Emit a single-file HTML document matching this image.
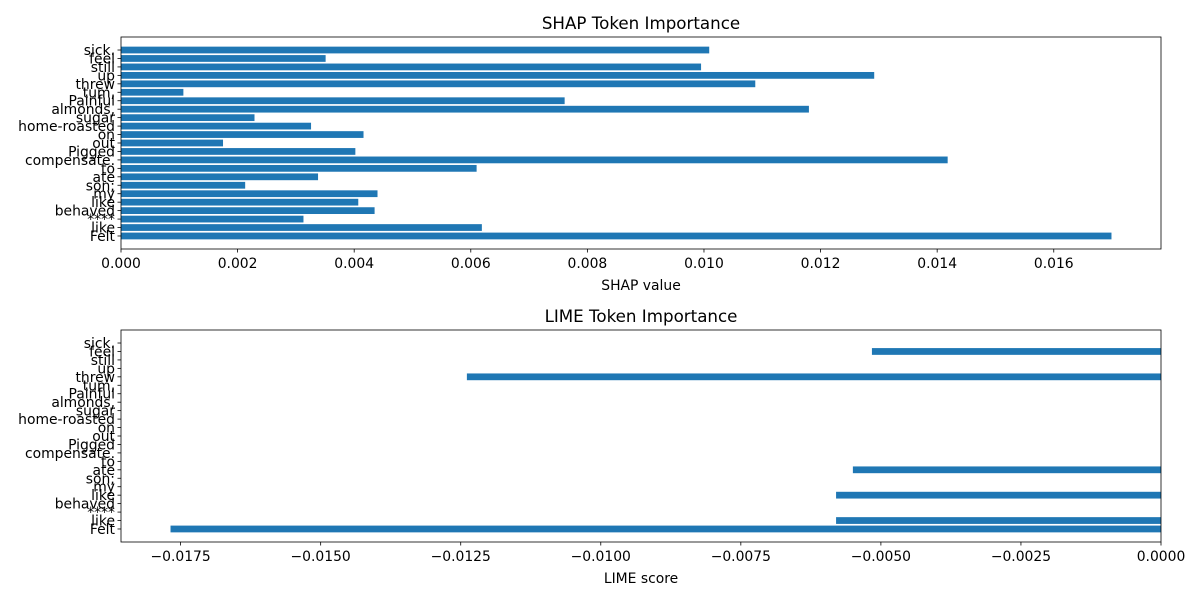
<!DOCTYPE html>
<html><head><meta charset="utf-8"><style>
body{margin:0;background:#fff}
svg{display:block;font-family:"DejaVu Sans","Liberation Sans",sans-serif}
</style></head><body>
<svg id="c" width="1200" height="600"></svg>
<script>
const categories=["Felt","like","****","behaved","like","my","son;","ate","to","compensate.","Pigged","out","on","home-roasted","sugar","almonds,","Painful","tum,","threw","up","still","feel","sick."];
const shapValues=[0.01699,0.00619,0.00313,0.00435,0.00407,0.0044,0.00213,0.00338,0.0061,0.01418,0.00402,0.00175,0.00416,0.00326,0.00229,0.0118,0.00761,0.00107,0.01088,0.01292,0.00995,0.00351,0.01009];
const limeValues=[-0.01768,-0.0058,0,0,-0.0058,0,0,-0.0055,0,0,0,0,0,0,0,0,0,0,-0.01239,0,0,-0.00516,0];
const shapTicks=[0,0.002,0.004,0.006,0.008,0.010,0.012,0.014,0.016];
const shapTickLabels=["0.000","0.002","0.004","0.006","0.008","0.010","0.012","0.014","0.016"];
const limeTicks=[-0.0175,-0.015,-0.0125,-0.01,-0.0075,-0.005,-0.0025,0];
const limeTickLabels=["\u22120.0175","\u22120.0150","\u22120.0125","\u22120.0100","\u22120.0075","\u22120.0050","\u22120.0025","0.0000"];
const svg=document.getElementById('c');
const NS='http://www.w3.org/2000/svg';
function mk(tag,attrs,parent){const e=document.createElementNS(NS,tag);for(const k in attrs)e.setAttribute(k,attrs[k]);(parent||svg).appendChild(e);return e;}
function panel(name,top,vals,ticks,tlabels,title,xlabel){
  const L=121,R=1161,T=top,B=top+212;
  let mn=Math.min(0,...vals),mx=Math.max(0,...vals);const r=mx-mn;mn-= (mn<0?0.05*r:0);mx+=(mx>0?0.05*r:0);
  const x=v=>L+(v-mn)/(mx-mn)*(R-L);
  const n=vals.length,y0=-0.4-0.05*(n-0.2),y1=n-0.6+0.05*(n-0.2);
  const y=v=>B-(v-y0)/(y1-y0)*(B-T);
  const g=mk('g',{});
  vals.forEach((v,i)=>{
    const a=x(Math.min(0,v)),b=x(Math.max(0,v));
    const rc=mk('rect',{x:a,y:y(i+0.4),width:b-a,height:y(i-0.4)-y(i+0.4),fill:'#1f77b4'},g);
    
    
    mk('line',{x1:L-3.5,x2:L,y1:y(i),y2:y(i),stroke:'#000','stroke-width':0.8},g);
    const t=mk('text',{x:L-6,y:y(i)+5,'text-anchor':'end','font-size':13.9},g);t.textContent=categories[i];
    
    
  });
  ticks.forEach((v,i)=>{
    mk('line',{x1:x(v),x2:x(v),y1:B,y2:B+3.5,stroke:'#000','stroke-width':0.8},g);
    const t=mk('text',{x:x(v),y:B+19,'text-anchor':'middle','font-size':13.9},g);t.textContent=tlabels[i];
    
    
  });
  const fr=mk('rect',{x:L,y:T,width:R-L,height:B-T,fill:'none',stroke:'#000','stroke-width':0.8},g);
  
  
  const tt=mk('text',{x:(L+R)/2,y:T-8,'text-anchor':'middle','font-size':16.7},g);tt.textContent=title;
  
  
  const xl=mk('text',{x:(L+R)/2,y:B+41,'text-anchor':'middle','font-size':13.9},g);xl.textContent=xlabel;
  
  
}
panel('shap',37,shapValues,shapTicks,shapTickLabels,'SHAP Token Importance','SHAP value');
panel('lime',330,limeValues,limeTicks,limeTickLabels,'LIME Token Importance','LIME score');
</script>
</body></html>
